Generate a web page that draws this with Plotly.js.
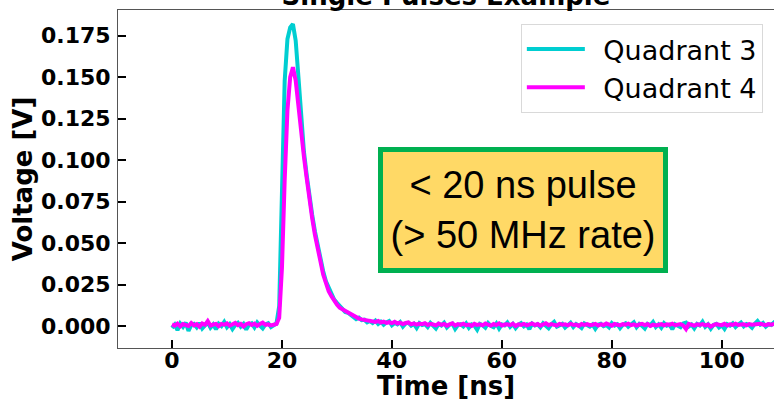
<!DOCTYPE html>
<html>
<head>
<meta charset="utf-8">
<script src="https://cdn.plot.ly/plotly-3.0.1.min.js"></script>
<style>html,body{margin:0;padding:0;background:#fff;}#chart{width:774px;height:401px;}</style>
</head>
<body>
<div id="chart"></div>
<script>
// Sampling: t = 0, 0.5, 1.0, ... ns
const timeStartNs = 0;
const timeStepNs = 0.5;

const seriesNames = ['Quadrant 3', 'Quadrant 4'];

// Quadrant 3 (cyan) voltages [V]
const q3Baseline = [
  -0.0012, 0.0008, -0.0025, 0.0015, -0.0005, 0.0020, -0.0030, 0.0005, 0.0012, -0.0008,
  0.0018, -0.0015, 0.0003, 0.0022, -0.0010, 0.0009, -0.0020, 0.0014, 0.0000, 0.0025,
  -0.0007, 0.0011, -0.0018, 0.0006, 0.0019, -0.0004, 0.0013, -0.0022, 0.0008, 0.0016,
  -0.0009, 0.0021, 0.0002, -0.0014, 0.0010, 0.0017, -0.0006, 0.0004
];
const q3Pulse = [
  0.0015, 0.012, 0.085, 0.148, 0.173, 0.180, 0.182, 0.172, 0.150, 0.127,
  0.105, 0.091, 0.078, 0.067, 0.057, 0.048, 0.040, 0.033, 0.027, 0.023,
  0.019, 0.016, 0.014, 0.012, 0.0105, 0.0085, 0.0080, 0.0065, 0.0058, 0.0042,
  0.0050, 0.0035, 0.0038, 0.0022, 0.0030
];
const q3Tail = [
  0.0018, 0.0032, 0.0012, 0.0026, 0.0008, 0.0021, 0.0030, 0.0005, 0.0019, 0.0010,
  0.0024, -0.0004, 0.0015, 0.0020, 0.0002, 0.0013, -0.0012, 0.0017, 0.0006, 0.0011,
  -0.0006, 0.0019, 0.0004, -0.0015, 0.0012, 0.0003, 0.0020, -0.0009, 0.0008, 0.0014,
  -0.0018, 0.0006, 0.0011, -0.0003, 0.0016, -0.0011, 0.0009, 0.0002, -0.0022, 0.0013,
  0.0005, -0.0010, 0.0018, 0.0001, -0.0007, 0.0015, -0.0016, 0.0010, 0.0004, 0.0021,
  -0.0005, 0.0012, -0.0013, 0.0007, 0.0017, -0.0002, 0.0009, -0.0019, 0.0014, 0.0003,
  0.0011, -0.0008, 0.0016, 0.0000, -0.0014, 0.0010, 0.0025, -0.0004, 0.0008, 0.0013,
  -0.0010, 0.0006, 0.0019, -0.0006, 0.0012, 0.0002, -0.0012, 0.0015, 0.0005, -0.0003,
  0.0010, -0.0017, 0.0008, 0.0014, -0.0001, 0.0006, -0.0009, 0.0018, 0.0003, 0.0011,
  -0.0013, 0.0007, 0.0016, -0.0004, 0.0009, 0.0022, -0.0008, 0.0012, 0.0001, -0.0015,
  0.0013, 0.0004, 0.0024, -0.0006, 0.0010, -0.0011, 0.0017, 0.0002, 0.0008, -0.0020,
  0.0011, 0.0005, -0.0007, 0.0015, 0.0020, -0.0003, 0.0009, -0.0014, 0.0012, 0.0003,
  0.0026, -0.0005, 0.0010, -0.0016, 0.0007, 0.0013, -0.0009, 0.0004, -0.0018, 0.0011,
  0.0002, 0.0016, -0.0006, 0.0009, 0.0021, -0.0002, 0.0012, 0.0005, -0.0010, 0.0014,
  0.0030, 0.0008, 0.0018, -0.0004, 0.0011, 0.0006, 0.0022, 0.0013
];

// Quadrant 4 (magenta) voltages [V]
const q4Baseline = [
  0.0010, 0.0002, 0.0014, -0.0002, 0.0012, 0.0006, 0.0000, 0.0018, 0.0004, 0.0011,
  -0.0004, 0.0015, 0.0007, 0.0030, 0.0003, 0.0009, 0.0013, -0.0001, 0.0012, 0.0008,
  0.0016, 0.0002, 0.0010, 0.0019, 0.0005, 0.0013, -0.0003, 0.0011, 0.0017, 0.0006,
  0.0014, 0.0001, 0.0012, 0.0020, 0.0007, 0.0010, 0.0004, 0.0009
];
const q4Pulse = [
  0.0012, 0.005, 0.035, 0.088, 0.130, 0.150, 0.156, 0.148, 0.131, 0.117,
  0.102, 0.089, 0.076, 0.065, 0.055, 0.046, 0.038, 0.031, 0.026, 0.021,
  0.018, 0.015, 0.013, 0.011, 0.0100, 0.0092, 0.0078, 0.0068, 0.0060, 0.0052,
  0.0045, 0.0040, 0.0036, 0.0032, 0.0030
];
const q4Tail = [
  0.0028, 0.0024, 0.0030, 0.0021, 0.0026, 0.0019, 0.0023, 0.0017, 0.0025, 0.0015,
  0.0020, 0.0012, 0.0018, 0.0022, 0.0010, 0.0016, 0.0008, 0.0014, 0.0011, 0.0017,
  0.0006, 0.0013, 0.0009, 0.0004, 0.0015, 0.0007, 0.0012, 0.0002, 0.0010, 0.0016,
  0.0003, 0.0011, 0.0007, 0.0014, 0.0005, 0.0009, 0.0001, 0.0013, 0.0006, 0.0010,
  0.0004, 0.0015, 0.0008, 0.0002, 0.0012, 0.0006, 0.0016, 0.0003, 0.0009, 0.0011,
  0.0005, 0.0014, 0.0000, 0.0010, 0.0007, 0.0013, 0.0004, 0.0008, 0.0015, 0.0006,
  0.0012, 0.0002, 0.0009, 0.0017, 0.0005, 0.0011, 0.0007, 0.0003, 0.0013, 0.0008,
  0.0010, 0.0004, 0.0014, 0.0006, 0.0009, 0.0001, 0.0012, 0.0007, 0.0011, 0.0005,
  0.0008, 0.0013, 0.0003, 0.0010, 0.0006, 0.0015, 0.0009, 0.0002, 0.0012, 0.0007,
  0.0004, 0.0011, 0.0008, 0.0014, 0.0005, 0.0010, 0.0003, 0.0009, 0.0013, 0.0006,
  0.0012, 0.0000, 0.0008, 0.0004, 0.0006, 0.0011, 0.0004, 0.0010, 0.0007, 0.0014,
  0.0005, 0.0009, 0.0012, 0.0003, -0.0018, 0.0013, 0.0006, 0.0002, 0.0010, 0.0007,
  0.0011, 0.0004, 0.0009, -0.0004, 0.0006, 0.0012, 0.0008, 0.0005, 0.0013, 0.0003,
  0.0010, 0.0007, 0.0014, 0.0006, 0.0009, 0.0011, 0.0004, 0.0012, 0.0008, 0.0010,
  0.0006, 0.0013, 0.0009, 0.0005, 0.0011, 0.0008, 0.0012, 0.0010
];

const q3Volts = q3Baseline.concat(q3Pulse, q3Tail);
const q4Volts = q4Baseline.concat(q4Pulse, q4Tail);

const xTickVals = [0, 20, 40, 60, 80, 100];
const yTickVals = [0.000, 0.025, 0.050, 0.075, 0.100, 0.125, 0.150, 0.175];

const FONT = 'DejaVu Sans, Verdana, sans-serif';
const LEGEND_GAP = '\u2002'; // spacing between legend line and its label

const traces = [
  {
    type: 'scatter', mode: 'lines', name: LEGEND_GAP + seriesNames[0],
    x0: timeStartNs, dx: timeStepNs, y: q3Volts,
    line: {color: '#00CED1', width: 4}
  },
  {
    type: 'scatter', mode: 'lines', name: LEGEND_GAP + seriesNames[1],
    x0: timeStartNs, dx: timeStepNs, y: q4Volts,
    line: {color: '#FF00FF', width: 4}
  }
];

const layout = {
  width: 774, height: 401,
  margin: {l: 118, r: 0, t: 10, b: 53, pad: 0},
  paper_bgcolor: '#ffffff', plot_bgcolor: '#ffffff',
  showlegend: true,
  title: {
    text: 'Single Pulses Example',
    font: {family: FONT, size: 26, weight: 'bold', color: '#000'},
    x: 0.5, xref: 'paper', xanchor: 'center',
    y: 1, yref: 'paper', yanchor: 'bottom', pad: {b: 5}
  },
  xaxis: {
    range: [-9.82, 109.5],
    tickvals: xTickVals,
    ticks: 'inside', ticklen: 8, tickwidth: 2, tickcolor: '#000',
    showgrid: false, zeroline: false,
    showline: true, linecolor: '#555', linewidth: 1, mirror: true,
    tickfont: {family: FONT, size: 22, weight: 'bold', color: '#000'},
    ticklabelstandoff: -7,
    title: {text: 'Time [ns]', font: {family: FONT, size: 26, weight: 'bold', color: '#000'}, standoff: 6}
  },
  yaxis: {
    range: [-0.01326, 0.1905],
    tickvals: yTickVals, tickformat: '.3f',
    ticks: 'inside', ticklen: 8, tickwidth: 2, tickcolor: '#000',
    showgrid: false, zeroline: false,
    showline: true, linecolor: '#555', linewidth: 1,
    tickfont: {family: FONT, size: 22, weight: 'bold', color: '#000'},
    ticklabelstandoff: 2,
    title: {text: 'Voltage [V]', font: {family: FONT, size: 26, weight: 'bold', color: '#000'}, standoff: 0}
  },
  legend: {
    x: 0.983, xanchor: 'right', y: 0.9586, yanchor: 'top',
    bgcolor: 'rgba(255,255,255,0.8)', bordercolor: '#d9d9d9', borderwidth: 1,
    font: {family: FONT, size: 27, color: '#000'},
    itemwidth: 58, tracegroupgap: 0
  },
  annotations: [
    {
      xref: 'x', yref: 'y', x: 63.85, y: 0.0699,
      xanchor: 'center', yanchor: 'middle', showarrow: false,
      text: '&lt; 20 ns pulse<br>(&gt; 50 MHz rate)',
      font: {family: 'Liberation Sans, Arial, sans-serif', size: 38, color: '#000'},
      bgcolor: '#FFD966', bordercolor: '#00B050', borderwidth: 5, borderpad: 0,
      width: 280, height: 116, align: 'center', valign: 'middle'
    }
  ]
};

Plotly.newPlot('chart', traces, layout, {staticPlot: true, displayModeBar: false});
</script>
</body>
</html>
